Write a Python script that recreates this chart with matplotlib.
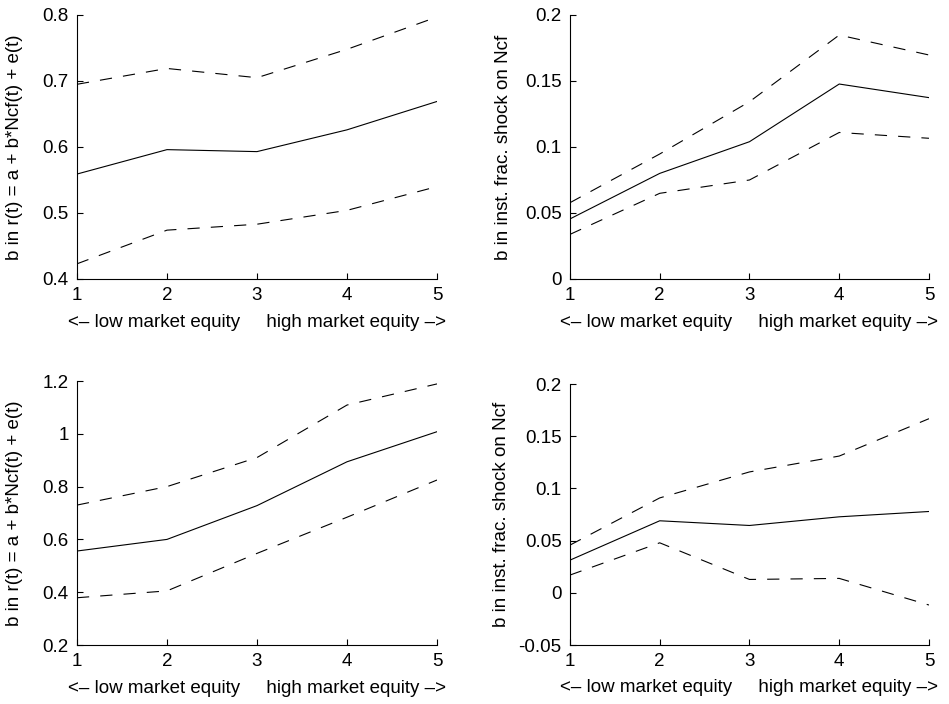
import matplotlib
matplotlib.use("Agg")
import matplotlib.pyplot as plt

plt.rcParams['font.family'] = ['Liberation Sans', 'DejaVu Sans']

x = [1, 2, 3, 4, 5]

# top-left: b in r(t) regression
tl_mid = [0.559, 0.596, 0.593, 0.626, 0.669]
tl_hi = [0.695, 0.719, 0.705, 0.748, 0.797]
tl_lo = [0.423, 0.474, 0.483, 0.504, 0.540]

# top-right: inst. frac. shock on Ncf
tr_mid = [0.0455, 0.080, 0.104, 0.1477, 0.1374]
tr_hi = [0.0578, 0.0947, 0.1343, 0.1848, 0.1697]
tr_lo = [0.0338, 0.0649, 0.075, 0.111, 0.1066]

# bottom-left
bl_mid = [0.556, 0.600, 0.728, 0.894, 1.008]
bl_hi = [0.730, 0.800, 0.910, 1.109, 1.189]
bl_lo = [0.379, 0.405, 0.547, 0.684, 0.825]

# bottom-right
br_mid = [0.0313, 0.069, 0.0645, 0.0728, 0.0779]
br_hi = [0.0457, 0.0909, 0.1158, 0.131, 0.1668]
br_lo = [0.017, 0.0479, 0.0128, 0.0138, -0.0117]

xlabel = '<\u2013 low market equity     high market equity \u2013>'
ylab_r = 'b in r(t) = a + b*Ncf(t) + e(t)'
ylab_f = 'b in inst. frac. shock on Ncf'

panels = [
    ([0.0811, 0.6037, 0.3794, 0.375], tl_mid, tl_hi, tl_lo, (0.4, 0.8), [0.4, 0.5, 0.6, 0.7, 0.8], ['0.4', '0.5', '0.6', '0.7', '0.8'], ylab_r, -0.150),
    ([0.6006, 0.6037, 0.3783, 0.375], tr_mid, tr_hi, tr_lo, (0, 0.2), [0, 0.05, 0.1, 0.15, 0.2], ['0', '0.05', '0.1', '0.15', '0.2'], ylab_f, -0.162),
    ([0.0811, 0.0838, 0.3794, 0.375], bl_mid, bl_hi, bl_lo, (0.2, 1.2), [0.2, 0.4, 0.6, 0.8, 1.0, 1.2], ['0.2', '0.4', '0.6', '0.8', '1', '1.2'], ylab_r, -0.150),
    ([0.6006, 0.0838, 0.3783, 0.3707], br_mid, br_hi, br_lo, (-0.05, 0.2), [-0.05, 0, 0.05, 0.1, 0.15, 0.2], ['-0.05', '0', '0.05', '0.1', '0.15', '0.2'], ylab_f, -0.167),
]

fig = plt.figure(figsize=(9.49, 7.04), dpi=100)

for rect, mid, hi, lo, ylim, yt, ytl, ylab, ylab_x in panels:
    ax = fig.add_axes(rect)
    ax.plot(x, mid, color='black', lw=0.8)
    ax.plot(x, hi, color='black', lw=0.8, linestyle=(0, (11, 10)))
    ax.plot(x, lo, color='black', lw=0.8, linestyle=(0, (11, 10)))
    ax.set_xlim(1, 5)
    ax.set_ylim(*ylim)
    ax.set_xticks(x)
    ax.set_yticks(yt)
    ax.set_yticklabels(ytl)
    ax.spines['top'].set_visible(False)
    ax.spines['right'].set_visible(False)
    ax.spines['left'].set_linewidth(0.8)
    ax.spines['bottom'].set_linewidth(0.8)
    ax.tick_params(direction='in', length=4, width=0.8, labelsize=13.5, pad=6)
    ax.set_xlabel(xlabel, fontsize=13.5)
    ax.set_ylabel(ylab, fontsize=13.5)
    ax.xaxis.set_label_coords(0.5, -0.132)
    ax.yaxis.set_label_coords(ylab_x, 0.5)

fig.savefig('out.png', dpi=100)
